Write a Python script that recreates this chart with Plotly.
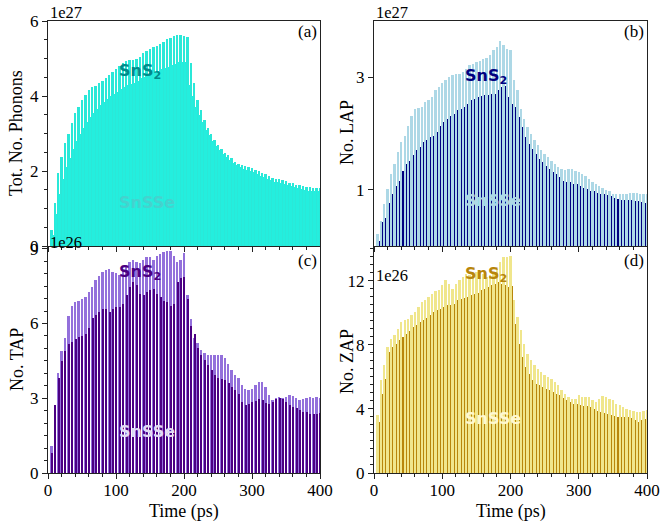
import plotly.graph_objects as go

# time axis (ps)
T = list(range(5, 405, 5))

# Panel (a): total number of phonons, units of 1e27
A_SnS2 = [0.44, 1.16, 1.94, 2.38, 2.74, 3.0, 3.27, 3.54, 3.72, 3.9,
          4.03, 4.16, 4.23, 4.28, 4.34, 4.4, 4.47, 4.56, 4.65, 4.71,
          4.8, 4.89, 4.94, 4.96, 4.96, 4.98, 5.05, 5.14, 5.21, 5.26,
          5.3, 5.33, 5.38, 5.45, 5.51, 5.56, 5.6, 5.63, 5.63, 5.6,
          5.58, 4.87, 4.34, 3.9, 3.63, 3.36, 3.16, 3.0, 2.83, 2.69,
          2.58, 2.49, 2.42, 2.34, 2.25, 2.2, 2.16, 2.13, 2.12, 2.09,
          2.04, 2.0, 1.96, 1.91, 1.87, 1.82, 1.8, 1.78, 1.76, 1.73,
          1.69, 1.67, 1.64, 1.62, 1.6, 1.58, 1.58, 1.56, 1.56, 1.56]
A_SnSSe = [0.3, 0.85, 1.4, 1.8, 2.1, 2.35, 2.6, 2.8, 3.0, 3.15,
           3.3, 3.45, 3.55, 3.65, 3.75, 3.85, 3.93, 4.0, 4.05, 4.12,
           4.18, 4.25, 4.3, 4.33, 4.35, 4.4, 4.47, 4.52, 4.57, 4.6,
           4.65, 4.68, 4.72, 4.75, 4.78, 4.82, 4.86, 4.9, 4.92, 4.9,
           4.3, 4.0, 3.7, 3.5, 3.3, 3.1, 2.95, 2.8, 2.67, 2.56,
           2.46, 2.38, 2.3, 2.22, 2.15, 2.1, 2.05, 2.02, 2.0, 1.97,
           1.93, 1.88, 1.83, 1.8, 1.76, 1.72, 1.7, 1.68, 1.66, 1.63,
           1.6, 1.57, 1.54, 1.52, 1.5, 1.48, 1.47, 1.46, 1.46, 1.47]

# Panel (b): LAP, units of 1e27
B_SnS2 = [0.21, 0.45, 0.74, 1.01, 1.28, 1.46, 1.67, 1.85, 1.96, 2.14,
          2.32, 2.44, 2.46, 2.48, 2.56, 2.6, 2.65, 2.77, 2.83, 2.89,
          2.96, 3.0, 3.04, 3.05, 3.05, 3.1, 3.15, 3.21, 3.24, 3.27,
          3.29, 3.32, 3.35, 3.39, 3.48, 3.54, 3.65, 3.57, 3.51, 3.48,
          2.95, 2.77, 2.44, 2.26, 2.11, 1.99, 1.88, 1.79, 1.7, 1.64,
          1.58, 1.52, 1.46, 1.4, 1.37, 1.35, 1.37, 1.37, 1.34, 1.31,
          1.28, 1.25, 1.19, 1.13, 1.1, 1.07, 1.03, 0.99, 0.97, 0.93,
          0.92, 0.92, 0.93, 0.93, 0.95, 0.95, 0.94, 0.93, 0.93, 0.93]
B_SnSSe = [0.09, 0.42, 0.5, 0.77, 0.92, 1.07, 1.16, 1.34, 1.46, 1.52,
           1.61, 1.7, 1.76, 1.85, 1.89, 1.93, 1.95, 2.02, 2.14, 2.2,
           2.26, 2.32, 2.35, 2.41, 2.44, 2.48, 2.53, 2.59, 2.62, 2.65,
           2.66, 2.68, 2.69, 2.7, 2.71, 2.77, 2.82, 2.84, 2.65, 2.53,
           2.47, 2.29, 2.11, 1.93, 1.82, 1.73, 1.64, 1.55, 1.49, 1.43,
           1.37, 1.31, 1.28, 1.22, 1.16, 1.14, 1.13, 1.11, 1.1, 1.07,
           1.04, 1.01, 0.98, 0.97, 0.95, 0.93, 0.92, 0.91, 0.89, 0.86,
           0.83, 0.82, 0.82, 0.82, 0.82, 0.8, 0.8, 0.79, 0.77, 0.76]

# Panel (c): TAP, units of 1e26
C_SnS2 = [1.09, 2.17, 4.0, 4.89, 5.43, 6.31, 6.72, 6.85, 6.92, 6.99,
          7.06, 7.26, 7.47, 7.74, 7.9, 8.08, 8.14, 8.17, 8.08, 8.01,
          7.94, 8.14, 8.35, 8.48, 8.55, 8.48, 8.42, 8.55, 8.66, 8.66,
          8.55, 8.69, 8.8, 8.85, 8.89, 8.92, 8.69, 8.48, 8.55, 8.82,
          7.13, 6.2, 5.43, 5.23, 4.95, 4.82, 4.75, 4.72, 4.75, 4.75,
          4.72, 4.62, 4.37, 4.14, 3.94, 3.8, 3.53, 3.39, 3.33, 3.39,
          3.53, 3.64, 3.67, 3.46, 3.12, 2.92, 3.01, 3.05, 3.01, 3.05,
          3.12, 3.09, 3.01, 2.92, 2.96, 3.01, 3.05, 3.01, 3.04, 3.01]
C_SnSSe = [0.81, 2.71, 3.8, 4.48, 4.89, 5.16, 5.27, 5.36, 5.46, 5.5,
           5.57, 5.81, 6.24, 6.35, 6.45, 6.58, 6.58, 6.45, 6.58, 6.65,
           6.65, 6.79, 7.13, 7.47, 7.67, 7.53, 7.19, 7.13, 7.26, 7.33,
           7.4, 7.19, 7.06, 6.92, 6.85, 6.72, 6.79, 7.67, 7.81, 7.87,
           7.0, 5.9, 5.57, 5.02, 4.75, 4.55, 4.34, 4.14, 3.94, 3.8,
           3.77, 3.73, 3.6, 3.46, 3.33, 3.19, 2.85, 2.71, 2.78, 2.85,
           2.88, 2.96, 2.92, 2.82, 2.78, 2.85, 2.99, 3.01, 2.96, 2.85,
           2.71, 2.65, 2.61, 2.51, 2.44, 2.44, 2.38, 2.38, 2.38, 2.42]

# Panel (d): ZAP, units of 1e26
D_SnS2 = [3.6, 5.78, 6.72, 7.86, 8.38, 8.59, 9.0, 9.42, 9.52, 9.63,
          9.83, 10.04, 10.35, 10.67, 10.77, 10.98, 11.19, 11.35, 11.4, 11.7,
          12.02, 11.81, 11.5, 11.81, 12.06, 12.22, 12.43, 12.33, 12.43, 12.54,
          12.54, 12.43, 12.22, 12.33, 12.43, 12.74, 13.16, 13.47, 13.47, 13.51,
          10.77, 9.73, 8.9, 8.07, 7.44, 7.03, 6.72, 6.51, 6.3, 6.09,
          5.99, 5.88, 5.68, 5.47, 5.16, 4.95, 4.74, 4.64, 4.64, 4.84,
          4.74, 4.74, 4.74, 4.57, 4.43, 4.64, 4.78, 4.74, 4.64, 4.53,
          4.32, 4.22, 4.12, 4.01, 3.91, 3.87, 3.8, 3.8, 3.85, 3.91]
D_SnSSe = [3.18, 4.95, 5.88, 7.55, 7.86, 8.07, 8.27, 8.48, 8.69, 8.86,
           9.11, 9.21, 9.42, 9.52, 9.69, 9.83, 10.04, 10.15, 10.25, 10.35,
           10.46, 10.46, 10.56, 10.81, 10.87, 10.94, 10.98, 11.08, 11.14, 11.23,
           11.39, 11.5, 11.6, 11.7, 11.81, 11.91, 11.81, 11.7, 11.6, 11.64,
           9.31, 8.07, 7.23, 6.61, 6.2, 5.78, 5.57, 5.47, 5.36, 5.26,
           5.16, 5.05, 4.95, 4.84, 4.7, 4.53, 4.43, 4.32, 4.28, 4.22,
           4.18, 4.18, 4.12, 4.01, 3.87, 3.8, 3.74, 3.7, 3.6, 3.53,
           3.49, 3.49, 3.49, 3.49, 3.45, 3.28, 3.18, 3.28, 3.39, 3.39]

X_TICKS = [0, 100, 200, 300, 400]
YTICKS_A = [0, 2, 4, 6]
YTICKS_B = [1, 3]
YTICKS_C = [0, 3, 6, 9]
YTICKS_D = [0, 4, 8, 12]

W, H = 660, 527
def px(x): return x / W
def py(y): return 1 - y / H

SERIF = "Liberation Serif, Times New Roman, serif"
SANS = "DejaVu Sans, sans-serif"

panels = [
    dict(ax="", back=A_SnS2, front=A_SnSSe, cb="rgba(42,232,216,0.999)", cf="rgba(36,238,222,0.999)",
         fo=0.0, fw=3.5, t1="#008B8B", t2="#45D2CE"),
    dict(ax="2", back=B_SnS2, front=B_SnSSe, cb="rgba(173,216,230,0.999)", cf="rgba(0,0,128,0.999)",
         fo=1.75, fw=1.5, t1="#000080", t2="#ADD8E6"),
    dict(ax="3", back=C_SnS2, front=C_SnSSe, cb="rgba(147,112,219,0.999)", cf="rgba(75,0,130,0.999)",
         fo=-1.0, fw=3.0, t1="#4B0082", t2="#E2DAF5"),
    dict(ax="4", back=D_SnS2, front=D_SnSSe, cb="rgba(240,230,140,0.999)", cf="rgba(184,134,11,0.999)",
         fo=1.75, fw=1.5, t1="#B8860B", t2="#FFF8D0"),
]

fig = go.Figure()
for p in panels:
    xa = "x" + p["ax"]
    ya = "y" + p["ax"]
    fig.add_trace(go.Bar(x=T, y=p["back"], width=3.5, offset=-1.75, xaxis=xa, yaxis=ya,
                         marker=dict(color=p["cb"], line=dict(width=0)), showlegend=False,
                         name="SnS2"))
    fig.add_trace(go.Bar(x=T, y=p["front"], width=p["fw"], offset=p["fo"], xaxis=xa, yaxis=ya,
                         marker=dict(color=p["cf"], line=dict(width=0)), showlegend=False,
                         name="SnSSe"))

LINE = "#222222"
common_x = dict(range=[0, 400], tickvals=X_TICKS, showline=True, mirror=True, linecolor=LINE,
                linewidth=1, ticks="outside", ticklen=5, tickcolor=LINE, showgrid=False,
                zeroline=False, automargin=False, ticklabelstandoff=-3,
                tickfont=dict(family=SERIF, size=17, color="black"),
                minor=dict(dtick=20, ticks="outside", ticklen=3, tickcolor=LINE))
common_y = dict(showline=True, mirror=True, linecolor=LINE, linewidth=1, ticks="outside",
                ticklen=5, tickcolor=LINE, showgrid=False, zeroline=False, automargin=False,
                tickfont=dict(family=SERIF, size=17, color="black"))

xl = [px(48), px(320)]
xr = [px(374), px(647)]
yt = [py(246), py(21)]
yb = [py(473), py(247)]

fig.update_layout(
    width=W, height=H, margin=dict(l=0, r=0, t=0, b=0, autoexpand=False),
    paper_bgcolor="white", plot_bgcolor="white", barmode="overlay", bargap=0,
    xaxis=dict(domain=xl, anchor="y", showticklabels=False, **common_x),
    yaxis=dict(domain=yt, anchor="x", range=[0, 6], tickvals=YTICKS_A,
               minor=dict(dtick=0.5, ticks="outside", ticklen=3, tickcolor=LINE), **common_y),
    xaxis2=dict(domain=xr, anchor="y2", showticklabels=False, **common_x),
    yaxis2=dict(domain=yt, anchor="x2", range=[0, 4.0], tickvals=YTICKS_B, **common_y),
    xaxis3=dict(domain=xl, anchor="y3", **common_x),
    yaxis3=dict(domain=yb, anchor="x3", range=[0, 9.07], tickvals=YTICKS_C,
                minor=dict(dtick=0.5, ticks="outside", ticklen=3, tickcolor=LINE), **common_y),
    xaxis4=dict(domain=xr, anchor="y4", **common_x),
    yaxis4=dict(domain=yb, anchor="x4", range=[0, 14.1], tickvals=YTICKS_D,
                minor=dict(dtick=0.5, ticks="outside", ticklen=3, tickcolor=LINE), **common_y),
)

ann = []
def add(text, x, y, size=17, family=SERIF, color="black", angle=0, xanchor="center"):
    ann.append(dict(text=text, x=px(x), y=py(y), xref="paper", yref="paper", showarrow=False,
                    font=dict(family=family, size=size, color=color), textangle=angle,
                    xanchor=xanchor, yanchor="middle"))

# axis titles
add("Tot. No. Phonons", 16, 133, size=18, angle=-90)
add("No. LAP", 347, 133, size=18, angle=-90)
add("No. TAP", 17, 360, size=18, angle=-90)
add("No. ZAP", 347, 362, size=18, angle=-90)
add("Time (ps)", 184, 511, size=18)
add("Time (ps)", 511, 511, size=18)
# offset texts
add("1e27", 66, 12, size=16.5)
add("1e27", 392, 12, size=16.5)
add("1e26", 66, 242, size=16.5)
add("1e26", 392, 275, size=16.5)
# panel labels
add("(a)", 307, 32)
add("(b)", 634, 32)
add("(c)", 307, 260)
add("(d)", 634, 260)
# series labels
lab = [(117, 71, 117, 202), (463, 76, 463, 201), (117, 272, 117, 431), (463, 274, 463, 418)]
for p, (x1, y1, x2, y2) in zip(panels, lab):
    add("<b>SnS<sub>2</sub></b>", x1, y1, size=16, family=SANS, color=p["t1"], xanchor="left")
    add("<b>SnSSe</b>", x2, y2, size=16, family=SANS, color=p["t2"], xanchor="left")

fig.update_layout(annotations=ann)
fig.write_html("out.html")
